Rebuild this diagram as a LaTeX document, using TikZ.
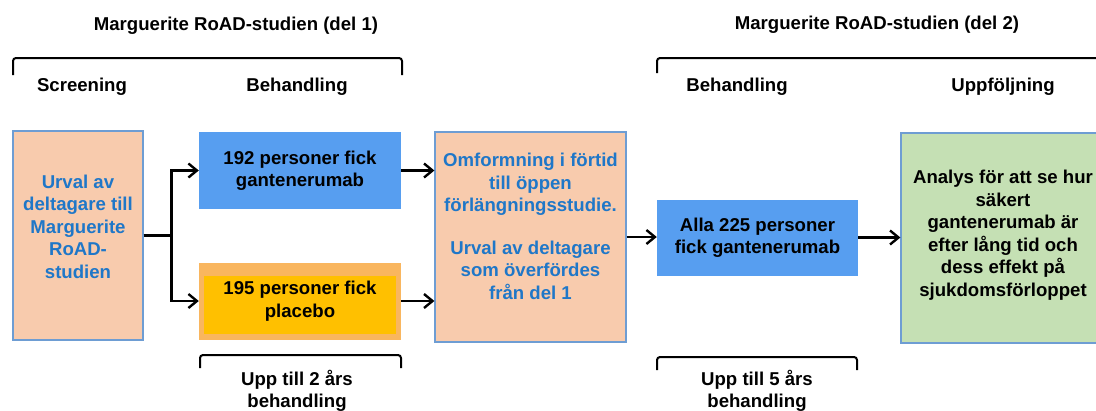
\documentclass[tikz,border=0pt]{standalone}
\usepackage{fontspec}
\setmainfont{Liberation Sans}
\usetikzlibrary{arrows.meta}

\definecolor{peach}{HTML}{F8CBAD}
\definecolor{boxline}{HTML}{6E9DD3}
\definecolor{textblue}{HTML}{1F77C8}
\definecolor{armblue}{HTML}{579EF0}
\definecolor{followgreen}{HTML}{C5E0B4}
\definecolor{orangeedge}{HTML}{F9B65F}
\definecolor{gold}{HTML}{FFC000}

\begin{document}
\begin{tikzpicture}
    [
        x = 1pt, y = -1pt,
        every node/.style = {font = \bfseries\fontsize{18.6}{22.5}\selectfont, align = center, inner sep = 0pt},
        peachbox/.style = {fill = peach, draw = boxline, line width = 1.2pt, text = textblue},
        armbox/.style = {fill = armblue, text = black},
        conn/.style = {line width = 2.4pt, -{Straight Barb[length = 8.5pt, width = 14pt]}},
        bracket/.style = {line width = 2pt, rounded corners = 3pt},
    ]

    \useasboundingbox (0,0) rectangle (1096,410);

    \node (title1) at (236,26) {Marguerite RoAD-studien (del 1)};
    \node (title2) at (877,25) {Marguerite RoAD-studien (del 2)};
    \draw [bracket] (13,75) -- (13,58) -- (402,58) -- (402,75);
    \draw [bracket] (657,73) -- (657,58) -- (1110,58);

    \node (screen) at (82,87) {Screening};
    \node (treat1) at (297,87) {Behandling};
    \node (treat2) at (737,87) {Behandling};
    \node (follow) at (1003,87) {Uppföljning};

    \node [peachbox, minimum width = 130pt, minimum height = 209pt] (select) at (78,235.5)
        {Urval av\\deltagare till\\Marguerite\\RoAD-\\studien\\[-4.5pt]\mbox{}};
    \node [armbox, minimum width = 202pt, minimum height = 77pt] (gant) at (300,170.5)
        {192 personer fick\\gantenerumab};
    \node [fill = orangeedge, minimum width = 202pt, minimum height = 77pt,
           path picture = {\fill [gold] ([xshift = 5pt, yshift = -13pt]path picture bounding box.north west)
                rectangle ([xshift = -5pt, yshift = 6pt]path picture bounding box.south east);}] (placebo) at (300,301)
        {195 personer fick\\placebo};
    \node [peachbox, minimum width = 191pt, minimum height = 210pt] (switch) at (530.5,237)
        {Omformning i förtid\\till öppen\\förlängningsstudie.\\[20pt]Urval av deltagare\\som överfördes\\från del 1\\[-1.5pt]\mbox{}};
    \node [armbox, minimum width = 201pt, minimum height = 76pt] (all) at (757.5,237.5)
        {Alla 225 personer\\fick gantenerumab};
    \node [fill = followgreen, draw = boxline, line width = 1.2pt, minimum width = 204pt, minimum height = 210pt] (analys) at (1003,238)
        {\mbox{}\\[-14.5pt]Analys för att se hur\\säkert\\gantenerumab är\\efter lång tid och\\dess effekt på\\sjukdomsförloppet};

    \draw [conn] (select.east) -- ++(28,0) |- (gant.west);
    \draw [conn] (select.east) -- ++(28,0) |- (placebo.west);
    \draw [conn] (gant.east) -- (gant.east -| switch.west);
    \draw [conn] (placebo.east) -- (placebo.east -| switch.west);
    \draw [conn] (switch.east) -- (switch.east -| all.west);
    \draw [conn] (all.east) -- (all.east -| analys.west);

    \draw [bracket] (200,368) -- (200,355) -- (401,355) -- (401,368);
    \draw [bracket] (657,370) -- (657,357) -- (857,357) -- (857,370);
    \node (dur1) at (297,391) {Upp till 2 års\\behandling};
    \node (dur2) at (757,391) {Upp till 5 års\\behandling};

\end{tikzpicture}
\end{document}
